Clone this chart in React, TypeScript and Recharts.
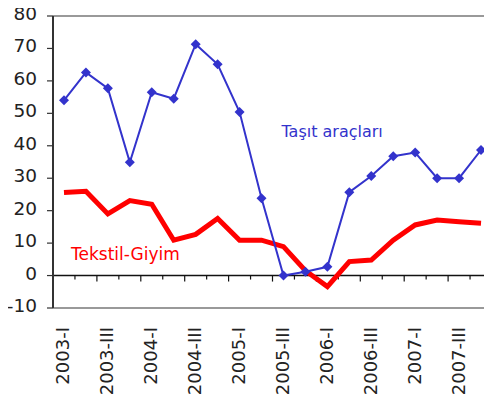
import { LineChart, Line, XAxis, YAxis, ReferenceLine, ReferenceDot } from "recharts";

const quarters = [
  "2003-I", "2003-II", "2003-III", "2003-IV",
  "2004-I", "2004-II", "2004-III", "2004-IV",
  "2005-I", "2005-II", "2005-III", "2005-IV",
  "2006-I", "2006-II", "2006-III", "2006-IV",
  "2007-I", "2007-II", "2007-III", "2007-IV",
];
const tasitAraclari = [54, 62.6, 57.7, 34.9, 56.5, 54.5, 71.3, 65.1, 50.4, 23.8, 0, 1.2, 2.7, 25.7, 30.7, 36.8, 37.9, 30, 30, 38.7];
const tekstilGiyim = [25.6, 26, 19, 23.1, 22, 10.9, 12.7, 17.6, 10.9, 10.9, 8.9, 1.5, -3.4, 4.3, 4.8, 10.9, 15.6, 17.1, 16.6, 16.1];
const yTicks = [-10, 0, 10, 20, 30, 40, 50, 60, 70, 80];

const BLUE = "#3333cc";
const RED = "#ff0000";
const FONT = "DejaVu Sans";

const data = quarters.map((q, i) => ({ q, tasit: tasitAraclari[i], tekstil: tekstilGiyim[i] }));

function Diamond(props: any) {
  const { cx, cy } = props;
  if (cx == null || cy == null) return null;
  const r = 5;
  return <path d={`M${cx},${cy - r}L${cx + r},${cy}L${cx},${cy + r}L${cx - r},${cy}Z`} fill={BLUE} />;
}

function YTick({ x, y, payload }: any) {
  return (
    <text x={x} y={y} dy={4} textAnchor="end" fontFamily={FONT} fontSize={18.5} fill="#222">
      {payload.value}
    </text>
  );
}

function XTick({ x, y, payload }: any) {
  const ty = y + 19;
  return (
    <text x={x} y={ty} dy={5.5} textAnchor="end" transform={`rotate(-90, ${x}, ${ty})`} fontFamily={FONT} fontSize={18} fill="#222">
      {payload.value}
    </text>
  );
}

function ZeroAxis(props: any) {
  const { x1, y1, x2 } = props;
  const n = quarters.length;
  const step = (x2 - x1) / n;
  const marks = [];
  for (let i = 1; i < n; i++) {
    const tx = x1 + i * step;
    marks.push(<line key={i} x1={tx} y1={y1} x2={tx} y2={y1 + (i % 2 === 0 ? 6 : 4)} stroke="#111" strokeWidth={1.2} />);
  }
  return (
    <g>
      <line x1={x1} y1={y1} x2={x2} y2={y1} stroke="#111" strokeWidth={1.5} />
      {marks}
    </g>
  );
}

export default function App() {
  return (
    <div style={{ margin: "-8px 0 0 -8px", width: 492, height: 401 }}>
      <LineChart width={492} height={401} data={data} margin={{ top: 16, right: 0, left: 8, bottom: 0 }}>
        <XAxis
          dataKey="q"
          scale="band"
          interval={1}
          height={93}
          tickLine={false}
          tickSize={0}
          tickMargin={0}
          axisLine={{ stroke: "#999", strokeWidth: 2 }}
          tick={<XTick />}
        />
        <YAxis
          domain={[-10, 80]}
          ticks={yTicks}
          width={45}
          tickSize={6}
          tickMargin={10}
          axisLine={{ stroke: "#333", strokeWidth: 2 }}
          tickLine={{ stroke: "#333", strokeWidth: 1.2 }}
          tick={<YTick />}
        />
        <ReferenceLine y={80} stroke="#999" strokeWidth={2} />
        <ReferenceLine y={0} shape={<ZeroAxis />} />
        <Line dataKey="tekstil" stroke={RED} strokeWidth={5} dot={false} type="linear" isAnimationActive={false} />
        <Line dataKey="tasit" stroke={BLUE} strokeWidth={2} dot={<Diamond />} type="linear" isAnimationActive={false} />
        <ReferenceDot
          x="2005-III"
          y={42.7}
          r={0}
          shape={(p: any) => (
            <text x={p.cx - 2} y={p.cy} fontFamily={FONT} fontSize={16} fill={BLUE}>
              Taşıt araçları
            </text>
          )}
        />
        <ReferenceDot
          x="2003-I"
          y={4.9}
          r={0}
          shape={(p: any) => (
            <text x={p.cx + 7} y={p.cy} fontFamily={FONT} fontSize={17} fill={RED}>
              Tekstil-Giyim
            </text>
          )}
        />
      </LineChart>
    </div>
  );
}
